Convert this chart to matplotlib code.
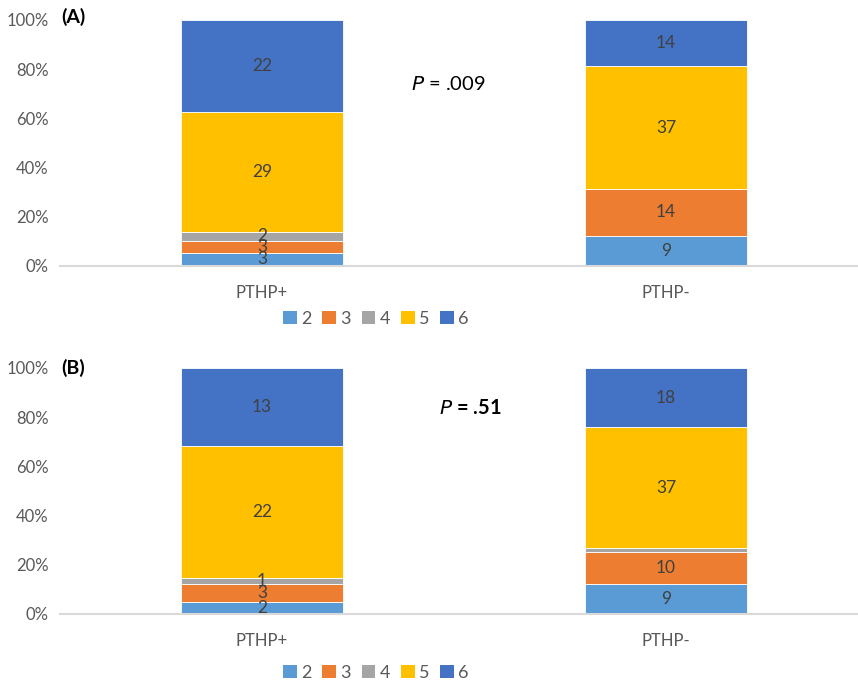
import matplotlib.pyplot as plt
from matplotlib.patches import Patch

plt.rcParams['font.family'] = ['Lato', 'DejaVu Sans']

groups = ['PTHP+', 'PTHP-']
scores = ['2', '3', '4', '5', '6']
colors = ['#5B9BD5', '#ED7D31', '#A5A5A5', '#FFC000', '#4472C4']

# counts per score, one list per group
counts_a = {
    'PTHP+': [3, 3, 2, 29, 22],
    'PTHP-': [9, 14, 0, 37, 14],
}
counts_b = {
    'PTHP+': [2, 3, 1, 22, 13],
    'PTHP-': [9, 10, 1, 37, 18],
}
# segments whose label is not shown
hidden_b = {('PTHP-', '4')}

W, H = 858, 683
fig = plt.figure(figsize=(W / 100, H / 100), dpi=100)


def px_axes(top, bottom, left=60, right=858):
    return fig.add_axes([left / W, 1 - bottom / H, (right - left) / W, (bottom - top) / H])


def draw_panel(ax, counts, hidden=()):
    for i, g in enumerate(groups):
        vals = counts[g]
        total = sum(vals)
        base = 0
        for s, v, c in zip(scores, vals, colors):
            if v == 0:
                continue
            frac = v / total * 100
            ax.bar(i, frac, bottom=base, width=0.4, color=c,
                   edgecolor='white', linewidth=0.6)
            if (g, s) not in hidden:
                ax.text(i, base + frac / 2, str(v), ha='center', va='center',
                        fontsize=12.5, color='#404040')
            base += frac
    ax.set_ylim(0, 100)
    ax.set_xlim(-0.5, 1.475)
    ax.set_yticks(range(0, 101, 20))
    ax.set_yticklabels([f'{t}%' for t in range(0, 101, 20)])
    ax.set_xticks(range(len(groups)))
    ax.set_xticklabels(groups)
    for sp in ['top', 'right', 'left']:
        ax.spines[sp].set_visible(False)
    ax.spines['bottom'].set_color('#D9D9D9')
    ax.spines['bottom'].set_linewidth(1.5)
    ax.tick_params(axis='both', length=0, labelsize=12, colors='#595959')
    ax.tick_params(axis='y', pad=8)
    ax.tick_params(axis='x', pad=14)


ax_a = px_axes(20, 265.5)
draw_panel(ax_a, counts_a)
ax_b = px_axes(368, 614)
draw_panel(ax_b, counts_b, hidden_b)

fig.text(61 / W, 1 - 17 / H, '(A)', fontsize=14, fontweight='bold', va='center')
fig.text(61 / W, 1 - 368 / H, '(B)', fontsize=14, fontweight='bold', va='center')
fig.text(448 / W, 1 - 84 / H, r'$\it{P}$ = .009', fontsize=14.5, ha='center', va='center')
fig.text(470 / W, 1 - 408 / H, r'$\bf{\it{P}}$ = .51', fontsize=14.5, fontweight='bold',
         ha='center', va='center')

handles = [Patch(facecolor=c, label=s) for s, c in zip(scores, colors)]
for y in (319, 673):
    fig.legend(handles=handles, loc='center', bbox_to_anchor=(376 / W, 1 - y / H),
               ncol=5, frameon=False, fontsize=13, handlelength=0.75, handleheight=0.75,
               handletextpad=0.25, columnspacing=0.6, labelcolor='#595959')

fig.savefig('out.png', dpi=100)
